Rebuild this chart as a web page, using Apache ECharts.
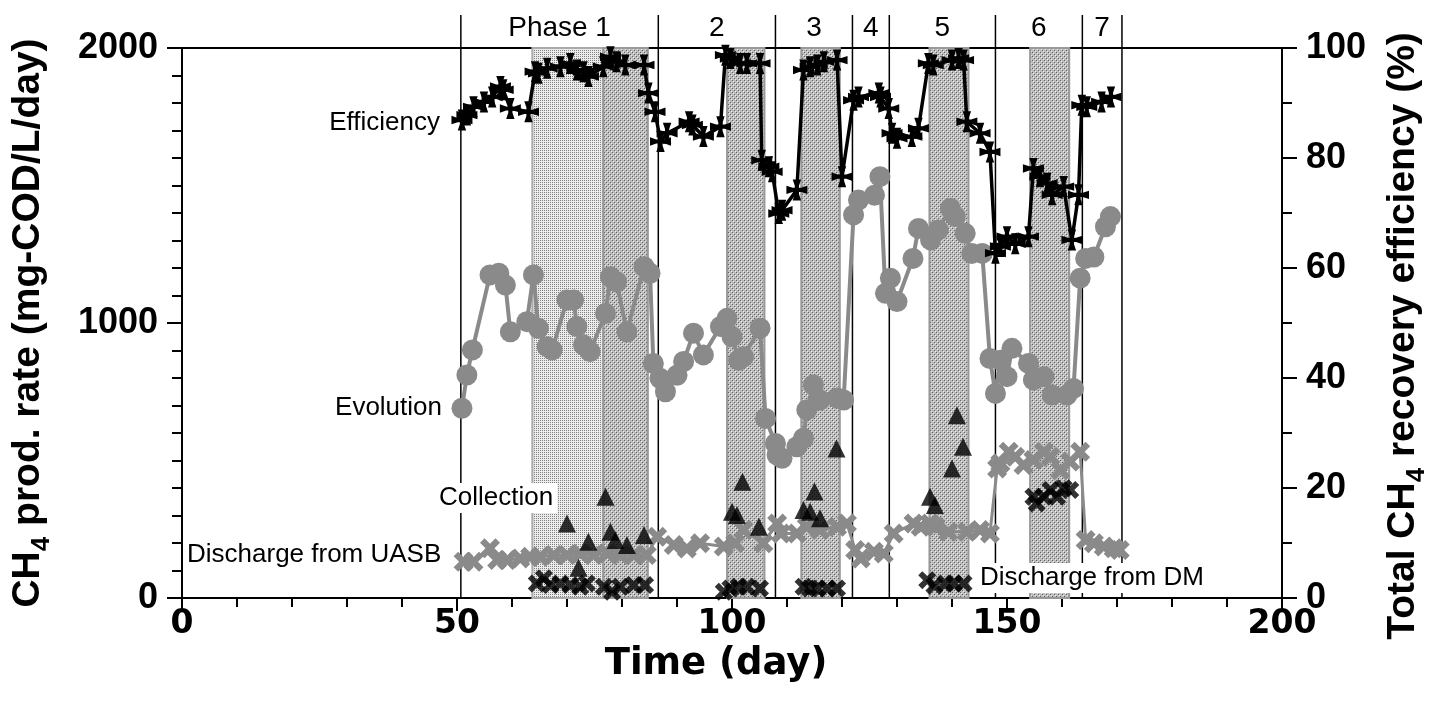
<!DOCTYPE html>
<html>
<head>
<meta charset="utf-8">
<script src="https://cdn.jsdelivr.net/npm/echarts@6/dist/echarts.min.js"></script>
<style>html,body{margin:0;background:#fff}#chart{width:1437px;height:707px}</style>
</head>
<body>
<div id="chart"></div>
<script>
// phase boundaries (day) and labels
var phaseBounds = [50.7, 86.6, 107.9, 121.9, 128.6, 147.9, 163.7, 170.9];
var phaseLabels = ['Phase 1', '2', '3', '4', '5', '6', '7'];
// shaded periods [start, end] (day)
var shadeLight = [[63.7, 76.6]];
var shadeDark = [[76.6, 84.7], [99.1, 105.9], [112.6, 119.6], [135.9, 143.0], [154.2, 161.3]];

// total CH4 recovery efficiency (%), right axis
var efficiency = [[50.9,86.9],[51.8,87.8],[53.0,89.3],[54.9,90.2],[56.4,91.1],[57.9,93.0],[58.4,92.4],[59.7,89.0],[63.0,88.4],[64.2,95.7],[64.8,95.4],[66.4,96.3],[68.8,96.6],[70.6,97.2],[71.8,96.0],[73.0,95.7],[73.9,94.8],[76.6,96.6],[77.9,98.4],[79.0,97.5],[80.6,96.9],[84.0,96.9],[84.8,91.8],[86.0,88.4],[87.0,83.0],[88.2,84.5],[92.2,86.6],[92.8,86.0],[94.8,83.9],[97.9,85.7],[98.8,98.7],[99.7,98.1],[101.5,97.2],[102.7,97.2],[105.1,97.2],[105.4,79.6],[106.7,78.4],[107.3,77.5],[108.5,69.9],[109.1,70.5],[111.8,74.2],[113.0,96.0],[114.2,96.6],[115.5,96.9],[116.7,97.5],[119.1,97.8],[120.0,76.6],[122.1,90.5],[123.0,91.1],[126.7,91.8],[127.0,91.1],[128.5,89.0],[129.1,84.5],[130.0,83.6],[132.7,83.9],[133.9,85.4],[135.7,97.2],[136.6,96.9],[140.0,97.8],[141.2,98.1],[142.1,97.8],[142.7,86.6],[145.1,84.5],[146.9,81.1],[147.9,62.7],[148.8,63.9],[150.0,65.7],[151.5,64.4],[153.9,65.7],[154.8,78.1],[156.0,76.6],[157.3,75.4],[158.2,73.3],[160.3,74.8],[161.8,65.1],[163.0,73.3],[163.6,89.6],[164.5,89.3],[167.2,90.2],[168.9,91.1]];

// CH4 evolution (mg-COD/L/day)
var evolution = [[50.9,690],[51.8,811],[52.8,902],[56.0,1175],[57.6,1181],[58.8,1138],[59.7,968],[62.7,1005],[63.9,1175],[64.8,981],[66.4,914],[67.3,902],[70.0,1084],[71.2,1084],[71.8,987],[73.0,920],[74.2,896],[77.0,1035],[77.9,1168],[79.0,1150],[80.9,968],[84.0,1205],[85.1,1181],[85.7,853],[86.9,799],[87.9,750],[90.0,810],[91.2,860],[93.0,963],[94.8,884],[97.9,987],[99.1,1017],[100.0,950],[101.2,865],[102.1,877],[105.1,981],[106.1,653],[107.9,562],[108.2,520],[109.1,508],[111.8,550],[113.0,581],[113.6,684],[114.8,775],[116.0,720],[119.1,727],[120.3,720],[122.1,1393],[123.0,1447],[125.9,1465],[126.9,1532],[127.9,1108],[128.8,1163],[130.0,1078],[132.9,1235],[133.9,1344],[136.1,1302],[137.5,1338],[139.7,1417],[140.6,1387],[142.4,1326],[143.6,1253],[145.5,1253],[146.9,871],[147.9,744],[148.8,865],[150.0,805],[150.9,908],[153.9,853],[154.8,793],[156.7,805],[158.2,738],[160.9,738],[162.1,762],[163.3,1163],[164.3,1235],[165.8,1240],[167.9,1350],[168.8,1387]];

// CH4 collection
var collection = [[70.0,271],[72.1,110],[73.9,205],[77.0,368],[77.9,241],[78.8,211],[80.9,193],[84.0,229],[100.0,314],[100.9,302],[101.9,423],[104.9,259],[113.0,320],[114.2,314],[115.0,387],[116.0,290],[119.0,544],[136.0,368],[136.9,338],[140.0,471],[140.9,665],[142.0,550]];

// CH4 discharge from UASB
var dischargeUasb = [[51.2,132],[53.0,132],[56.0,181],[57.3,138],[59.1,138],[61.5,144],[63.3,150],[65.1,150],[67.6,156],[70.0,156],[72.4,162],[74.8,156],[77.3,162],[79.7,156],[82.1,156],[84.5,156],[86.4,223],[89.4,193],[91.8,180],[94.2,199],[98.5,187],[100.6,199],[102.1,247],[105.7,199],[108.2,271],[108.9,235],[111.8,235],[113.6,259],[116.0,247],[119.1,259],[120.9,271],[122.4,175],[123.4,144],[125.8,168],[127.6,162],[129.4,235],[133.0,271],[134.3,259],[136.0,271],[137.0,259],[139.3,241],[142.7,241],[145.1,247],[146.9,235],[148.2,471],[148.8,490],[150.3,532],[151.5,514],[153.0,484],[154.8,502],[156.7,532],[157.9,514],[159.7,465],[161.5,496],[163.3,532],[164.3,211],[165.8,199],[167.6,187],[169.4,181],[170.5,175]];

// CH4 discharge from DM
var dischargeDm = [[64.5,53],[65.8,72],[67.0,47],[68.8,53],[70.6,47],[72.4,41],[73.6,53],[76.7,41],[78.2,23],[79.7,41],[82.1,47],[84.2,47],[98.5,23],[99.7,35],[101.2,41],[102.7,41],[105.1,35],[113.0,41],[114.2,35],[115.5,35],[117.3,35],[119.1,35],[135.5,65],[136.8,45],[138.8,53],[140.3,53],[142.1,53],[154.8,368],[155.4,344],[156.7,368],[157.9,393],[159.1,368],[160.3,399],[161.5,393]];

var GREY = '#8a8a8a';
var SANS = '"Liberation Sans", Arial, sans-serif';
var WIDE = '"DejaVu Sans", sans-serif';
// cross with flared tips, and a chunky X
var crossPath = 'path://M6,0 L14,0 L12,6 L12,8 L14,8 L20,6 L20,14 L14,12 L12,12 L12,14 L14,20 L6,20 L8,14 L8,12 L6,12 L0,14 L0,6 L6,8 L8,8 L8,6 Z';
var xPath = 'path://M0,4.5 L4.5,0 L10,5.5 L15.5,0 L20,4.5 L14.5,10 L20,15.5 L15.5,20 L10,14.5 L4.5,20 L0,15.5 L5.5,10 Z';

function makePattern(kind) {
  var c = document.createElement('canvas');
  c.width = 4; c.height = 4;
  var g = c.getContext('2d');
  if (kind === 'light') {
    g.fillStyle = '#ececec'; g.fillRect(0, 0, 4, 4);
    g.fillStyle = '#808080';
    g.fillRect(0, 0, 1, 1); g.fillRect(2, 2, 1, 1); g.fillRect(2, 0, 1, 1); g.fillRect(0, 2, 1, 1);
  } else {
    g.fillStyle = '#bdbdbd'; g.fillRect(0, 0, 4, 4);
    g.fillStyle = '#606060';
    g.fillRect(0, 0, 1, 1); g.fillRect(2, 2, 1, 1);
    g.fillStyle = '#eeeeee';
    g.fillRect(1, 1, 1, 1); g.fillRect(3, 3, 1, 1);
  }
  return c;
}
var lightPat = makePattern('light');
var darkPat = makePattern('dark');

function shadeRender(pat, stroke) {
  return function (params, api) {
    var p0 = api.coord([api.value(0), 2000]);
    var p1 = api.coord([api.value(1), 0]);
    return {
      type: 'rect',
      shape: { x: p0[0], y: p0[1], width: p1[0] - p0[0], height: p1[1] - p0[1] },
      style: { fill: { image: pat, repeat: 'repeat' }, stroke: stroke, lineWidth: 2 }
    };
  };
}

var phaseItems = [];
for (var i = 0; i < phaseLabels.length; i++) {
  phaseItems.push([phaseBounds[i], phaseBounds[i + 1], phaseLabels[i]]);
}

function plain(v) { return String(v); }

var nameRich = {
  b: { fontFamily: SANS, fontWeight: 'bold', fontSize: 39, color: '#000', lineHeight: 54 },
  s: { fontFamily: SANS, fontWeight: 'bold', fontSize: 26, color: '#000', lineHeight: 26, verticalAlign: 'bottom' }
};

var chart = echarts.init(document.getElementById('chart'));
chart.setOption({
  animation: false,
  grid: { left: 182, right: 155, top: 48, bottom: 109, show: true, borderColor: '#000', borderWidth: 2, containLabel: false, outerBoundsMode: 'none' },
  xAxis: {
    type: 'value', min: 0, max: 200, interval: 50,
    name: 'Time (day)', nameLocation: 'middle', nameGap: 48,
    nameTextStyle: { fontFamily: WIDE, fontWeight: 'bold', fontSize: 37, color: '#000', padding: [0, 32, 0, 0] },
    axisLine: { lineStyle: { color: '#000', width: 2 } },
    axisTick: { length: 13, lineStyle: { width: 2 } },
    minorTick: { show: true, splitNumber: 5, length: 9, lineStyle: { color: '#000', width: 2 } },
    splitLine: { show: false },
    axisLabel: { margin: 10, color: '#000', fontFamily: WIDE, fontWeight: 'bold', fontSize: 33, formatter: plain }
  },
  yAxis: [{
    type: 'value', min: 0, max: 2000, interval: 1000, position: 'left',
    name: '{b|CH}{s|4}{b| prod. rate (mg-COD/L/day)}', nameLocation: 'middle', nameGap: 127, nameRotate: 90,
    nameTextStyle: { rich: nameRich },
    axisLine: { show: true, lineStyle: { color: '#000', width: 2 } },
    axisTick: { show: true, length: 15, lineStyle: { width: 2 } },
    minorTick: { show: true, splitNumber: 10, length: 10, lineStyle: { color: '#000', width: 2 } },
    splitLine: { show: false },
    axisLabel: { margin: 24, color: '#000', fontFamily: SANS, fontWeight: 'bold', fontSize: 36, formatter: plain }
  }, {
    type: 'value', min: 0, max: 100, interval: 20, position: 'right',
    name: '{b|Total CH}{s|4}{b| recovery efficiency (%)}', nameLocation: 'middle', nameGap: 94, nameRotate: 90,
    nameTextStyle: { padding: [0, 26, 0, 0], rich: nameRich },
    axisLine: { show: true, lineStyle: { color: '#000', width: 2 } },
    axisTick: { show: true, length: 15, lineStyle: { width: 2 } },
    minorTick: { show: true, splitNumber: 2, length: 10, lineStyle: { color: '#000', width: 2 } },
    splitLine: { show: false },
    axisLabel: { margin: 24, color: '#000', fontFamily: SANS, fontWeight: 'bold', fontSize: 36, formatter: plain }
  }],
  series: [
    { type: 'custom', silent: true, z: 1, data: shadeLight, renderItem: shadeRender(lightPat, '#aaaaaa') },
    { type: 'custom', silent: true, z: 1, data: shadeDark, renderItem: shadeRender(darkPat, '#999999') },
    {
      type: 'custom', silent: true, z: 2, clip: false,
      data: phaseBounds.map(function (d) { return [d]; }),
      renderItem: function (params, api) {
        var b = api.coord([api.value(0), 0]);
        var t = api.coord([api.value(0), 2000]);
        return { type: 'line', shape: { x1: b[0], y1: b[1], x2: t[0], y2: t[1] - 33 }, style: { stroke: '#000', lineWidth: 1.5 } };
      }
    },
    {
      type: 'custom', silent: true, z: 2, clip: false,
      data: phaseItems,
      dimensions: ['start', 'end', { name: 'label', type: 'ordinal' }],
      renderItem: function (params, api) {
        var item = phaseItems[params.dataIndex];
        var a = api.coord([item[0], 2000]);
        var b = api.coord([item[1], 2000]);
        return { type: 'text', style: { text: item[2], x: (a[0] + b[0]) / 2, y: a[1] - 20, align: 'center', verticalAlign: 'middle', font: '28px ' + SANS, fill: '#000' } };
      }
    },
    {
      name: 'Discharge from UASB', type: 'line', data: dischargeUasb, z: 3,
      symbol: xPath, symbolSize: 20, itemStyle: { color: GREY }, lineStyle: { color: GREY, width: 3 }
    },
    {
      name: 'Evolution', type: 'line', data: evolution, z: 4,
      symbol: 'circle', symbolSize: 21, itemStyle: { color: GREY }, lineStyle: { color: GREY, width: 4 }
    },
    {
      name: 'Collection', type: 'scatter', data: collection, z: 5,
      symbol: 'triangle', symbolSize: 18, itemStyle: { color: '#000' }
    },
    {
      name: 'Discharge from DM', type: 'scatter', data: dischargeDm, z: 5,
      symbol: xPath, symbolSize: 18, itemStyle: { color: '#000' }
    },
    {
      name: 'Efficiency', type: 'line', yAxisIndex: 1, data: efficiency, z: 6,
      symbol: crossPath, symbolSize: 21, itemStyle: { color: '#000' }, lineStyle: { color: '#000', width: 3.5 }
    }
  ],
  graphic: [
    { type: 'text', z: 100, style: { text: 'Efficiency', x: 440, y: 123, align: 'right', verticalAlign: 'middle', font: '26px ' + SANS, fill: '#000' } },
    { type: 'text', z: 100, style: { text: 'Evolution', x: 442, y: 408, align: 'right', verticalAlign: 'middle', font: '26px ' + SANS, fill: '#000' } },
    { type: 'text', z: 100, style: { text: 'Collection', x: 435, y: 498, align: 'left', verticalAlign: 'middle', font: '26px ' + SANS, fill: '#000', backgroundColor: '#fff', padding: [2, 4] } },
    { type: 'text', z: 100, style: { text: 'Discharge from UASB', x: 187, y: 555, align: 'left', verticalAlign: 'middle', font: '26px ' + SANS, fill: '#000' } },
    { type: 'text', z: 100, style: { text: 'Discharge from DM', x: 976, y: 578, align: 'left', verticalAlign: 'middle', font: '26px ' + SANS, fill: '#000', backgroundColor: '#fff', padding: [2, 4] } }
  ]
});
</script>
</body>
</html>
